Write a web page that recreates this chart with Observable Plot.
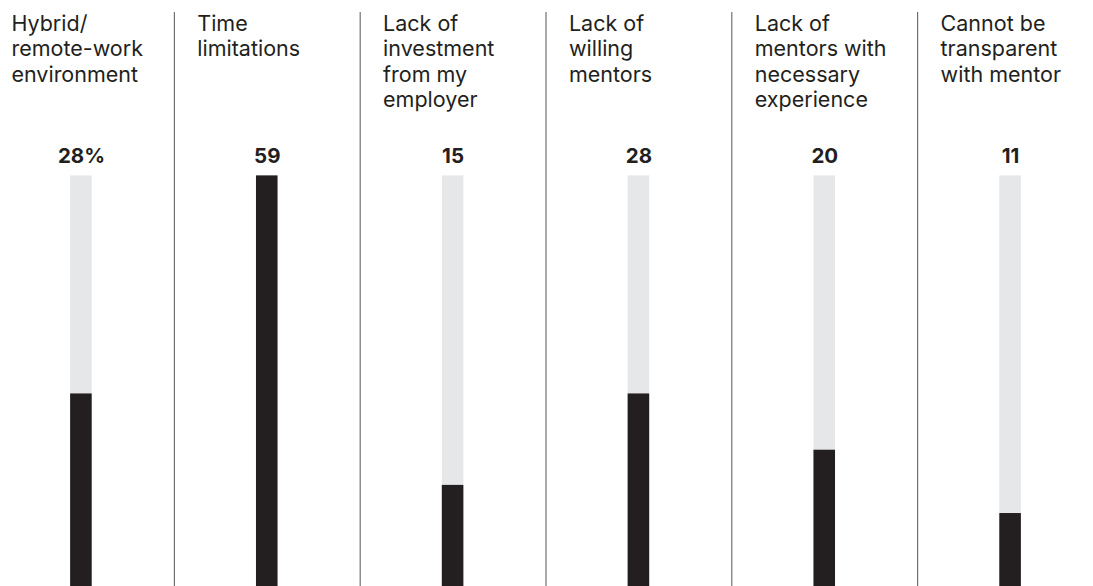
<!DOCTYPE html>
<html><head><meta charset="utf-8">
<script src="https://cdn.jsdelivr.net/npm/d3@7"></script>
<script src="https://cdn.jsdelivr.net/npm/@observablehq/plot@0.6"></script>
<style>html,body{margin:0;padding:0;background:#fff;overflow:hidden;} #chart svg{display:block}</style>
</head><body><div id="chart"></div>
<script>
const categories = [
  "Hybrid/\nremote-work\nenvironment",
  "Time\nlimitations",
  "Lack of\ninvestment\nfrom my\nemployer",
  "Lack of\nwilling\nmentors",
  "Lack of\nmentors with\nnecessary\nexperience",
  "Cannot be\ntransparent\nwith mentor"
];
const values = [28, 59, 15, 28, 20, 11];
const valueLabels = ["28%", "59", "15", "28", "20", "11"];

const data = categories.map((c, i) => ({i, c, v: values[i], label: valueLabels[i]}));
const full = d3.max(values);
const half = 0.058;

const chart = Plot.plot({
  width: 1093, height: 586,
  marginTop: 12, marginBottom: 0, marginLeft: 0, marginRight: 0,
  x: {type: "linear", domain: [-0.5, categories.length - 0.5], range: [-12, 1103], axis: null},
  y: {domain: [0, full], range: [590.4, 175.4], axis: null},
  style: {fontFamily: "Inter, sans-serif", background: "#fff", color: "#231f20"},
  marks: [
    Plot.ruleX(d3.range(categories.length - 1), {x: d => d + 0.5, stroke: "#555", strokeWidth: 1}),
    Plot.rectY(data, {x1: d => d.i - half, x2: d => d.i + half, y1: 0, y2: full, fill: "#e6e7e8"}),
    Plot.rectY(data, {x1: d => d.i - half, x2: d => d.i + half, y1: 0, y2: "v", fill: "#231f20"}),
    Plot.text(data, {x: "i", y: full, text: "label", dy: -13.4, lineAnchor: "bottom",
      fontWeight: 700, fontSize: 20.5, fill: "#231f20"}),
    Plot.text(data, {x: "i", frameAnchor: "top", text: "c", textAnchor: "start", lineAnchor: "top",
      dx: -70, dy: 0, fontSize: 21.5, lineHeight: 1.186, fill: "#231f20"})
  ]
});
document.getElementById("chart").appendChild(chart);
</script>
</body></html>
